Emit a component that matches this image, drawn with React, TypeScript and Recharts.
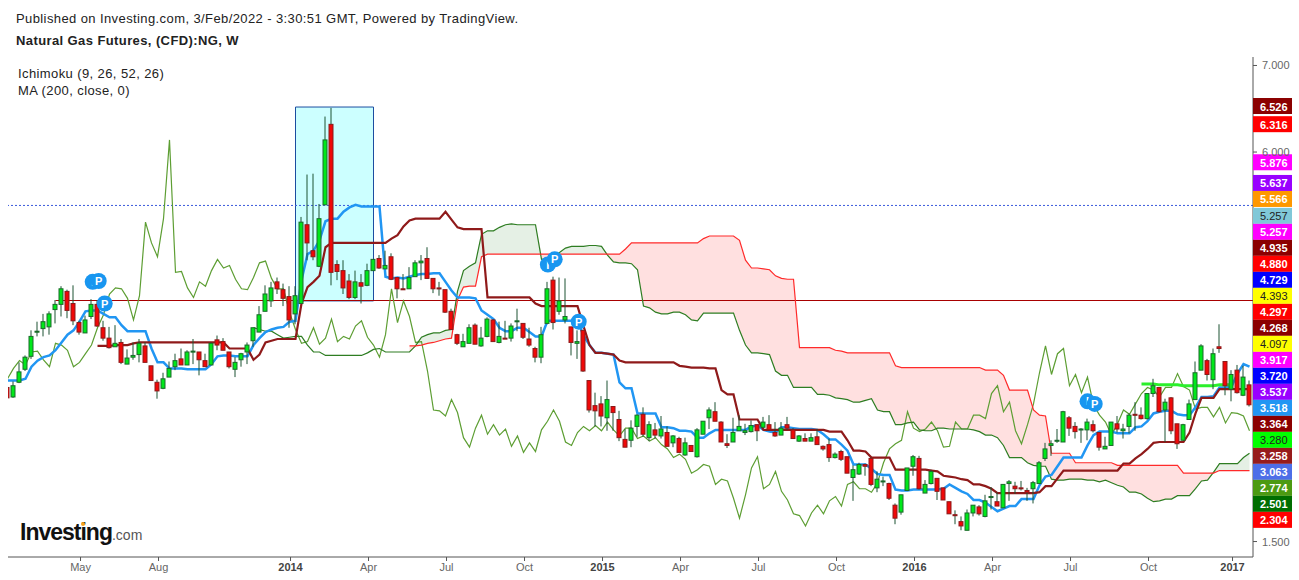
import {
  Area,
  Bar,
  ComposedChart,
  Line,
  ReferenceArea,
  ReferenceDot,
  ReferenceLine,
  XAxis,
  YAxis,
} from "recharts"

const FONT = '"Liberation Sans", Arial, sans-serif'

// weekly candles, NG CFD
const opens = [
  3.28,3.17,3.34,3.49,3.64,3.92,3.96,3.98,4.18,4.24,
  4.39,4.25,4.03,3.91,4.10,4.24,3.97,3.85,3.75,3.80,
  3.55,3.63,3.66,3.76,3.53,3.34,3.27,3.40,3.52,3.61,
  3.54,3.69,3.69,3.59,3.54,3.83,3.81,3.69,3.49,3.60,
  3.69,3.82,3.92,4.16,4.28,4.50,4.41,4.33,4.13,4.25,
  5.16,4.86,4.68,5.39,6.32,4.70,4.63,4.51,4.32,4.49,
  4.46,4.63,4.77,4.65,4.79,4.55,4.42,4.42,4.56,4.72,
  4.77,4.54,4.43,4.41,4.16,3.89,3.75,3.79,4.00,3.76,
  3.87,4.06,3.80,3.85,3.85,4.04,4.02,3.84,3.73,3.63,
  4.02,4.52,4.16,4.06,3.98,3.79,3.94,3.36,3.07,3.09,
  2.93,3.06,2.91,2.68,2.67,2.83,2.97,2.70,2.79,2.72,
  2.76,2.64,2.69,2.50,2.61,2.48,2.74,2.93,3.00,2.88,
  2.63,2.65,2.78,2.76,2.77,2.85,2.82,2.85,2.76,2.73,
  2.85,2.79,2.66,2.69,2.66,2.71,2.60,2.62,2.47,2.54,
  2.48,2.24,2.28,2.39,2.46,2.12,2.19,2.17,1.92,1.84,
  2.09,2.37,2.46,2.06,2.17,2.23,2.12,1.96,1.81,1.73,
  1.63,1.83,1.90,1.79,2.01,1.96,1.89,2.17,2.14,2.12,
  2.09,2.11,2.17,2.46,2.61,2.66,2.65,2.93,2.83,2.80,
  2.79,2.85,2.76,2.57,2.61,2.86,2.78,2.83,2.97,2.96,
  2.92,3.21,3.28,3.02,3.16,2.86,2.67,2.91,3.14,3.48,
  3.59,3.37,3.75,3.58,3.26,3.48,3.19,3.31,
]
const highs = [
  3.29,3.35,3.57,3.65,3.94,4.04,4.13,4.16,4.29,4.45,
  4.41,4.46,4.05,4.11,4.30,4.29,4.05,3.98,4.00,3.84,
  3.72,3.80,3.84,3.80,3.53,3.37,3.45,3.58,3.67,3.73,
  3.71,3.84,3.69,3.67,3.80,3.88,3.85,3.69,3.63,3.68,
  3.80,3.97,4.22,4.46,4.50,4.55,4.48,4.45,4.45,5.25,
  5.74,5.75,5.40,6.41,6.51,4.75,4.75,4.59,4.63,4.59,
  4.71,4.76,4.81,4.86,4.83,4.55,4.59,4.67,4.75,4.81,
  4.90,4.54,4.50,4.41,4.19,3.90,3.90,4.01,4.02,3.98,
  4.09,4.07,4.04,4.05,4.02,4.19,4.02,3.97,3.75,3.98,
  4.50,4.56,4.55,4.54,3.98,3.94,3.94,3.36,3.22,3.18,
  3.36,3.06,3.01,2.80,2.90,2.97,3.05,2.89,2.87,2.95,
  2.83,2.73,2.71,2.70,2.61,2.81,2.89,3.05,3.11,2.89,
  2.74,2.93,2.96,2.86,2.90,2.85,2.94,2.96,2.88,2.88,
  2.94,2.81,2.73,2.75,2.75,2.80,2.61,2.69,2.53,2.56,
  2.48,2.38,2.41,2.40,2.47,2.31,2.25,2.18,1.94,2.04,
  2.35,2.50,2.49,2.21,2.33,2.23,2.12,1.96,1.86,1.79,
  1.87,1.92,1.92,2.04,2.13,2.07,2.16,2.21,2.19,2.20,
  2.12,2.20,2.43,2.64,2.67,2.80,3.01,2.95,2.88,2.81,
  2.92,2.90,2.76,2.71,2.88,2.95,2.86,2.98,3.11,3.05,
  3.21,3.38,3.28,3.15,3.17,2.86,2.86,3.14,3.58,3.78,
  3.61,3.73,4.01,3.58,3.48,3.54,3.53,3.36,
]
const lows = [
  3.16,3.16,3.33,3.47,3.61,3.87,3.87,3.89,4.02,4.10,
  4.08,4.00,3.89,3.91,4.07,3.98,3.82,3.73,3.75,3.55,
  3.55,3.60,3.57,3.57,3.36,3.15,3.26,3.40,3.48,3.54,
  3.54,3.55,3.42,3.52,3.54,3.71,3.71,3.50,3.40,3.52,
  3.55,3.75,3.92,4.16,4.21,4.36,4.22,3.97,4.01,4.25,
  4.75,4.75,4.67,5.39,4.46,4.52,4.36,4.30,4.30,4.25,
  4.45,4.63,4.65,4.65,4.52,4.31,4.41,4.42,4.56,4.52,
  4.54,4.37,4.34,4.14,3.95,3.77,3.75,3.79,3.78,3.75,
  3.86,3.81,3.79,3.84,3.81,3.93,3.84,3.75,3.57,3.56,
  4.01,3.95,4.12,4.02,3.65,3.61,3.46,2.99,2.83,2.83,
  2.78,2.78,2.66,2.59,2.59,2.71,2.71,2.66,2.69,2.69,
  2.60,2.59,2.53,2.49,2.54,2.47,2.74,2.80,2.89,2.65,
  2.58,2.65,2.78,2.73,2.76,2.66,2.81,2.78,2.71,2.73,
  2.79,2.69,2.65,2.66,2.66,2.62,2.55,2.42,2.46,2.43,
  2.29,1.97,2.27,2.26,2.14,2.07,2.14,1.98,1.70,1.81,
  2.09,2.26,2.10,2.06,2.16,1.98,1.98,1.82,1.70,1.63,
  1.63,1.79,1.80,1.78,1.87,1.91,1.89,1.97,2.05,2.09,
  1.97,1.94,2.17,2.43,2.49,2.64,2.65,2.72,2.69,2.64,
  2.67,2.76,2.55,2.57,2.61,2.76,2.69,2.75,2.78,2.91,
  2.91,3.17,2.99,2.65,2.74,2.57,2.67,2.91,3.14,3.48,
  3.36,3.26,3.68,3.19,3.12,3.21,3.18,3.06,
]
const closes = [
  3.16,3.30,3.46,3.63,3.87,3.93,4.04,4.13,4.24,4.42,
  4.17,4.05,3.92,4.06,4.24,3.99,3.85,3.74,3.79,3.57,
  3.62,3.65,3.79,3.57,3.36,3.24,3.38,3.50,3.59,3.54,
  3.69,3.70,3.60,3.52,3.79,3.77,3.71,3.52,3.57,3.67,
  3.77,3.97,4.12,4.36,4.43,4.42,4.31,4.06,4.34,5.19,
  4.95,4.79,5.23,6.14,4.61,4.62,4.43,4.32,4.50,4.45,
  4.63,4.76,4.66,4.69,4.53,4.42,4.41,4.55,4.72,4.74,
  4.54,4.42,4.42,4.15,3.95,3.79,3.81,3.97,3.78,3.85,
  4.07,3.81,3.87,3.84,3.99,4.05,3.86,3.77,3.63,3.89,
  4.42,4.03,4.28,4.10,3.80,3.81,3.47,3.02,3.01,2.95,
  3.14,2.99,2.70,2.59,2.81,2.96,2.74,2.85,2.73,2.80,
  2.60,2.72,2.53,2.64,2.54,2.79,2.89,3.02,2.89,2.65,
  2.61,2.76,2.83,2.78,2.84,2.78,2.88,2.79,2.72,2.81,
  2.81,2.69,2.72,2.66,2.70,2.62,2.57,2.47,2.51,2.45,
  2.29,2.33,2.39,2.37,2.16,2.22,2.20,2.00,1.77,2.04,
  2.35,2.48,2.11,2.16,2.31,2.08,1.98,1.82,1.80,1.68,
  1.83,1.92,1.82,1.97,2.02,1.91,2.16,2.19,2.11,2.11,
  2.07,2.18,2.41,2.57,2.63,2.67,3.00,2.81,2.77,2.80,
  2.88,2.78,2.59,2.60,2.88,2.80,2.80,2.96,2.96,2.92,
  3.21,3.30,3.00,3.11,2.78,2.63,2.85,3.09,3.45,3.76,
  3.43,3.67,3.73,3.30,3.43,3.22,3.40,3.08,
]

// Ichimoku lines
const tenkan = [
  3.36,3.36,3.36,3.38,3.52,3.59,3.63,3.65,3.71,3.80,
  3.89,3.94,4.04,4.16,4.17,4.17,4.13,4.09,4.09,4.00,
  3.93,3.93,3.93,3.93,3.73,3.57,3.57,3.50,3.50,3.50,
  3.49,3.49,3.49,3.49,3.55,3.64,3.65,3.65,3.64,3.64,
  3.64,3.77,3.85,3.92,3.95,3.97,3.98,4.04,4.05,4.52,
  4.82,4.86,4.98,5.20,5.23,5.23,5.31,5.36,5.39,5.37,
  5.37,5.37,5.37,4.56,4.54,4.55,4.54,4.56,4.58,4.59,
  4.59,4.60,4.60,4.50,4.40,4.32,4.32,4.32,4.31,4.17,
  4.12,4.07,3.97,3.93,3.93,3.97,3.97,3.92,3.87,3.87,
  4.05,4.05,4.05,4.05,4.05,4.05,3.88,3.77,3.68,3.68,
  3.67,3.66,3.34,3.27,3.27,2.98,2.98,2.98,2.98,2.82,
  2.82,2.81,2.78,2.78,2.77,2.70,2.70,2.75,2.79,2.79,
  2.79,2.79,2.79,2.79,2.83,2.84,2.79,2.77,2.76,2.82,
  2.82,2.81,2.80,2.80,2.80,2.79,2.74,2.68,2.68,2.62,
  2.55,2.39,2.39,2.39,2.34,2.28,2.27,2.27,2.10,2.09,
  2.09,2.10,2.10,2.10,2.10,2.10,2.11,2.16,2.12,2.08,
  2.05,1.98,1.98,1.95,1.90,1.85,1.88,1.91,1.91,1.99,
  1.99,1.99,2.15,2.25,2.27,2.37,2.47,2.47,2.47,2.47,
  2.61,2.73,2.77,2.77,2.77,2.75,2.75,2.75,2.82,2.83,
  2.89,2.98,3.00,3.01,3.01,2.97,2.96,2.96,3.05,3.17,
  3.17,3.18,3.28,3.28,3.29,3.44,3.55,3.52,
]
const kijunStart = 15
const kijun = [
  3.76,3.76,3.76,3.77,3.77,
  3.77,3.79,3.80,3.80,3.80,3.80,3.80,3.80,3.80,3.80,
  3.80,3.80,3.80,3.80,3.80,3.80,3.80,3.73,3.73,3.73,
  3.73,3.60,3.66,3.80,3.82,3.84,3.84,3.84,3.84,4.25,
  4.44,4.50,4.57,4.90,4.95,4.95,4.95,4.95,4.95,4.95,
  4.95,4.95,4.95,4.95,5.00,5.04,5.14,5.21,5.23,5.23,
  5.23,5.23,5.23,5.31,5.22,5.13,5.11,5.11,5.11,5.11,
  4.32,4.32,4.32,4.32,4.32,4.32,4.32,4.32,4.25,4.22,
  4.22,4.22,4.22,4.22,4.22,4.22,3.99,3.77,3.68,3.68,
  3.67,3.66,3.59,3.57,3.57,3.57,3.57,3.57,3.57,3.57,
  3.57,3.57,3.53,3.52,3.51,3.51,3.51,3.50,3.50,3.25,
  3.20,3.20,2.91,2.91,2.91,2.91,2.79,2.79,2.79,2.79,
  2.79,2.79,2.79,2.79,2.79,2.79,2.79,2.77,2.77,2.77,
  2.67,2.55,2.55,2.54,2.47,2.47,2.47,2.47,2.33,2.33,
  2.33,2.33,2.33,2.33,2.32,2.31,2.26,2.25,2.24,2.22,
  2.21,2.16,2.16,2.14,2.11,2.06,2.06,2.06,2.06,2.06,
  2.06,2.06,2.07,2.14,2.14,2.23,2.32,2.32,2.32,2.32,
  2.32,2.32,2.32,2.32,2.32,2.32,2.40,2.40,2.46,2.51,
  2.57,2.64,2.65,2.65,2.65,2.65,2.65,2.76,2.98,3.16,
  3.16,3.16,3.26,3.26,3.26,3.26,3.26,3.26,
]
const chikou = [
  3.38,3.50,3.59,3.54,
  3.69,3.70,3.60,3.52,3.79,3.77,3.71,3.52,3.57,3.67,
  3.77,3.97,4.12,4.36,4.43,4.42,4.31,4.06,4.34,5.19,
  4.95,4.79,5.23,6.14,4.61,4.62,4.43,4.32,4.50,4.45,
  4.63,4.76,4.66,4.69,4.53,4.42,4.41,4.55,4.72,4.74,
  4.54,4.42,4.42,4.15,3.95,3.79,3.81,3.97,3.78,3.85,
  4.07,3.81,3.87,3.84,3.99,4.05,3.86,3.77,3.63,3.89,
  4.42,4.03,4.28,4.10,3.80,3.81,3.47,3.02,3.01,2.95,
  3.14,2.99,2.70,2.59,2.81,2.96,2.74,2.85,2.73,2.80,
  2.60,2.72,2.53,2.64,2.54,2.79,2.89,3.02,2.89,2.65,
  2.61,2.76,2.83,2.78,2.84,2.78,2.88,2.79,2.72,2.81,
  2.81,2.69,2.72,2.66,2.70,2.62,2.57,2.47,2.51,2.45,
  2.29,2.33,2.39,2.37,2.16,2.22,2.20,2.00,1.77,2.04,
  2.35,2.48,2.11,2.16,2.31,2.08,1.98,1.82,1.80,1.68,
  1.83,1.92,1.82,1.97,2.02,1.91,2.16,2.19,2.11,2.11,
  2.07,2.18,2.41,2.57,2.63,2.67,3.00,2.81,2.77,2.80,
  2.88,2.78,2.59,2.60,2.88,2.80,2.80,2.96,2.96,2.92,
  3.21,3.30,3.00,3.11,2.78,2.63,2.85,3.09,3.45,3.76,
  3.43,3.67,3.73,3.30,3.43,3.22,3.40,3.08,
  2.96,2.88,2.73,2.86,3.02,2.97,3.09,3.21,3.28,3.25,
  3.17,3.28,3.28,3.44,3.29,3.25,3.03,3.05,3.05,2.94,
  3.05,2.87,2.99,2.98,2.95,2.78,
]
const senkouAStart = 41
const senkouA = [
  3.97,3.95,3.93,3.93,3.89,3.85,3.86,3.87,3.87,
  3.77,3.69,3.69,3.65,3.65,3.65,3.65,3.65,3.65,3.65,
  3.68,3.72,3.73,3.69,3.69,3.69,3.69,3.69,3.76,3.86,
  3.89,3.91,3.91,3.94,3.95,4.39,4.63,4.68,4.72,5.05,
  5.09,5.09,5.13,5.16,5.17,5.16,5.16,5.16,5.16,4.76,
  4.77,4.80,4.84,4.89,4.91,4.91,4.91,4.92,4.92,4.91,
  4.81,4.73,4.72,4.72,4.71,4.64,4.22,4.20,4.15,4.13,
  4.13,4.15,4.15,4.12,4.06,4.05,4.14,4.14,4.14,4.14,
  4.14,4.14,3.94,3.77,3.68,3.68,3.67,3.66,3.47,3.42,
  3.42,3.28,3.28,3.28,3.28,3.20,3.20,3.19,3.16,3.15,
  3.14,3.11,3.11,3.13,3.15,3.02,3.00,3.00,2.85,2.85,
  2.87,2.88,2.79,2.78,2.78,2.81,2.81,2.80,2.80,2.80,
  2.80,2.79,2.77,2.73,2.73,2.70,2.61,2.47,2.47,2.47,
  2.41,2.38,2.37,2.37,2.22,2.21,2.21,2.22,2.22,2.22,
  2.21,2.21,2.19,2.21,2.18,2.15,2.13,2.07,2.07,2.05,
  2.00,1.96,1.97,1.99,1.99,2.03,2.03,2.03,2.11,2.20,
  2.21,2.30,2.40,2.40,2.40,2.40,2.47,2.52,
]
const senkouBStart = 67
const senkouB = [
  3.76,3.76,3.77,3.79,3.80,3.82,3.84,3.85,4.29,4.44,4.45,4.45,4.79,
  4.82,4.82,4.82,4.82,4.82,4.82,4.82,4.82,4.82,4.82,4.82,4.82,
  4.82,4.82,4.82,4.82,4.82,4.82,4.82,4.82,4.82,4.82,4.82,
  4.88,
  4.95,4.95,4.95,4.95,4.95,4.95,4.95,4.95,4.95,4.95,4.95,4.95,
  5.00,5.03,5.03,5.03,5.03,5.03,
  4.98,4.75,4.66,4.66,4.65,4.64,4.57,4.54,4.53,4.53,
  3.74,3.74,3.74,3.74,3.74,3.74,3.71,3.70,3.68,
  3.68,3.68,3.68,3.68,3.68,3.68,3.68,
  3.53,
  3.51,3.51,3.51,3.51,3.51,3.51,3.51,3.51,3.51,3.51,3.51,3.51,3.51,3.51,
  3.48,3.48,3.48,3.42,
  3.25,3.25,3.25,3.25,3.02,2.96,2.95,
  2.52,2.52,2.52,2.52,
  2.41,2.41,2.41,2.41,2.41,2.41,2.41,
  2.38,2.38,2.38,2.38,2.38,2.38,2.38,2.38,2.38,2.38,2.38,
  2.29,2.29,2.29,2.29,2.29,2.29,
  2.32,2.32,2.32,2.32,2.32,2.32,
]
const maStart = 189
const ma200 = [3.32,3.32,3.32,3.31,3.31,3.31,3.31,3.30,3.30,3.30,3.30,3.30,3.30,3.31,3.31,3.31]

// x axis
const xTickIndex = [12.17, 25.17, 47.17, 60.17, 73.17, 86.17, 99.17, 112.17, 125.17, 138.17, 151.17, 164.17, 177.17, 190.17, 204.17]
const xTickLabels = ["May", "Aug", "2014", "Apr", "Jul", "Oct", "2015", "Apr", "Jul", "Oct", "2016", "Apr", "Jul", "Oct", "2017"]
const yTicks = [1.5, 2, 2.5, 3, 3.5, 4, 4.5, 5, 5.5, 6, 6.5, 7]
// the other tick labels sit behind the price tags
const yTickLabels = [1.5, 6, 7]

// price tags on the right axis
const tagValues = [6.526, 6.316, 5.876, 5.637, 5.566, 5.257, 5.257, 4.935, 4.88, 4.729, 4.393, 4.297, 4.268, 4.097, 3.917, 3.72, 3.537, 3.518, 3.364, 3.28, 3.258, 3.063, 2.774, 2.501, 2.304]
const tagColors = ["#8b0000", "#ff0000", "#ff00ff", "#9900ff", "#ff9800", "#80c8d8", "#ff00ff", "#8b0000", "#ff0000", "#0000ff", "#ffff00", "#ff0000", "#8b0000", "#ffff00", "#ff00ff", "#0000ff", "#9900ff", "#2196f3", "#8b0000", "#00ff00", "#971c1c", "#4d6ee8", "#4c9a12", "#006e00", "#ff0000"]
const darkTextTags = ["#80c8d8", "#ffff00", "#00ff00"]

// pivot bubbles
const bubbleIndex = [14.2, 15.2, 16.2, 90.06, 91.2, 95.2, 180, 181.2]
const bubbleValue = [4.5, 4.51, 4.25, 4.7, 4.76, 4.04, 3.12, 3.09]
const bubbleText = ["I", "P", "P", "I", "P", "P", "I", "P"]

const rowData = closes.map((close, i) => {
  const a = senkouA[i - senkouAStart] ?? null
  const b = senkouB[i - senkouBStart] ?? null
  return {
    i,
    open: opens[i],
    high: highs[i],
    low: lows[i],
    close,
    tenkan: tenkan[i],
    kijun: kijun[i - kijunStart] ?? null,
    chikou: chikou[i],
    senkouA: a,
    senkouB: b,
    ma: ma200[i - maStart] ?? null,
    cloudUp: a != null && b != null ? [b, Math.max(a, b)] : null,
    cloudDown: a != null && b != null ? [a, Math.max(a, b)] : null,
  }
})

// stack the tags so they don't overlap: one tag is 16px of the 86.55px per unit
const TAG_STEP = 16 / 86.55
const tagPlaced: number[] = []
tagValues.forEach((v, i) => {
  tagPlaced.push(i === 0 ? v : Math.min(v, tagPlaced[i - 1] - TAG_STEP))
})

function Candle(props: any) {
  const { x, y, width, height, payload } = props
  const { open, high, low, close } = payload
  const cx = x + width / 2
  const toY = (v: number) => y + ((high - v) / (high - low || 1)) * height
  const up = close >= open
  const top = toY(Math.max(open, close))
  const bottom = toY(Math.min(open, close))
  return (
    <g>
      <line x1={cx} x2={cx} y1={y} y2={y + height} stroke="#1c5233" strokeWidth={1} />
      <rect
        x={cx - 2}
        y={top}
        width={4}
        height={Math.max(bottom - top, 1)}
        fill={up ? "#00e81a" : "#f00808"}
        stroke={up ? "#1a6a2a" : "#8b1a1a"}
        strokeWidth={1}
      />
    </g>
  )
}

function XTick(props: any) {
  const { x, y, payload } = props
  const label = xTickLabels[xTickIndex.indexOf(payload.value)]
  const isYear = label.length === 4
  return (
    <text x={x} y={y + 8} textAnchor="middle" fontFamily={FONT} fontSize={11} fontWeight={isYear ? 700 : 400} fill={isYear ? "#444" : "#666"}>
      {label}
    </text>
  )
}

function YTick(props: any) {
  const { x, y, payload } = props
  if (!yTickLabels.includes(payload.value)) return null
  return (
    <text x={x + 3} y={y + 4} fontFamily={FONT} fontSize={11} fill="#666">
      {payload.value.toFixed(3)}
    </text>
  )
}

function Tag(props: any) {
  const { cx, cy, color, value } = props
  const dark = darkTextTags.includes(color)
  return (
    <g>
      <rect x={cx + 3.5} y={cy - 8.5} width={39} height={16} fill={color} />
      <text x={cx + 10.5} y={cy + 4} fontFamily={FONT} fontSize={11} fontWeight={dark ? 400 : 700} fill={dark ? "#222" : "#fff"}>
        {value.toFixed(3)}
      </text>
    </g>
  )
}

function Bubble(props: any) {
  const { cx, cy, text } = props
  return (
    <g>
      <circle cx={cx} cy={cy} r={8} fill="#1896f0" />
      <text x={cx} y={cy + 4} textAnchor="middle" fontFamily={FONT} fontSize={11} fontWeight={700} fill="#fff">
        {text}
      </text>
    </g>
  )
}

const textStyle = { position: "absolute", fontFamily: FONT, fontSize: 13, letterSpacing: 0.4, color: "#222", whiteSpace: "nowrap", lineHeight: "16px" } as const

export default function App() {
  return (
    <div style={{ position: "absolute", left: 0, top: 0, width: 1299, height: 580, background: "#fff", overflow: "hidden" }}>
      <ComposedChart width={1299} height={580} data={rowData} margin={{ top: 57, right: 0, bottom: 0, left: 8 }}>
        <XAxis
          dataKey="i"
          type="number"
          domain={[1 / 12, 207 + 7 / 12]}
          allowDataOverflow
          ticks={xTickIndex}
          tick={<XTick />}
          height={23}
          tickSize={4}
          stroke="#555"
          interval={0}
        />
        <YAxis
          orientation="right"
          type="number"
          domain={[1.3213, 7.098]}
          allowDataOverflow
          ticks={yTicks}
          tick={<YTick />}
          width={46}
          tickSize={4}
          stroke="#555"
          interval={0}
        />
        <ReferenceArea x1={48} x2={61} y1={4.28} y2={6.52} fill="#ccffff" fillOpacity={1} stroke="#1c4da0" strokeWidth={1} ifOverflow="visible" />
        <Area dataKey="cloudUp" stroke="none" fill="#e5f0e5" fillOpacity={1} isAnimationActive={false} dot={false} activeDot={false} />
        <Area dataKey="cloudDown" stroke="none" fill="#ffe0e0" fillOpacity={1} isAnimationActive={false} dot={false} activeDot={false} />
        <ReferenceLine y={5.383} stroke="#3b5bdb" strokeDasharray="2 2" strokeWidth={1} />
        <ReferenceLine segment={[{ x: 8, y: 4.285 }, { x: 207.58, y: 4.285 }]} stroke="#a80000" strokeWidth={1.2} />
        <Line dataKey="chikou" stroke="#5d9e33" strokeWidth={1.2} dot={false} activeDot={false} isAnimationActive={false} />
        <Line dataKey="senkouA" stroke="#2e7d22" strokeWidth={1.2} dot={false} activeDot={false} isAnimationActive={false} />
        <Line dataKey="senkouB" stroke="#ff2a2a" strokeWidth={1.2} dot={false} activeDot={false} isAnimationActive={false} />
        <Line dataKey="tenkan" stroke="#2196f3" strokeWidth={2.5} dot={false} activeDot={false} isAnimationActive={false} />
        <Line dataKey="kijun" stroke="#8f1a1a" strokeWidth={2.2} dot={false} activeDot={false} isAnimationActive={false} />
        <Line dataKey="ma" stroke="#2bf02b" strokeWidth={3} dot={false} activeDot={false} isAnimationActive={false} />
        <Bar dataKey={(d: any) => [d.low, d.high]} barSize={5} shape={<Candle />} isAnimationActive={false} zIndex={450} />
        {bubbleIndex.map((x, i) => (
          <ReferenceDot key={i} x={x} y={bubbleValue[i]} r={8} ifOverflow="visible" shape={<Bubble text={bubbleText[i]} />} zIndex={600} />
        ))}
        {tagValues.map((v, i) => (
          <ReferenceDot
            key={v + "-" + i}
            x={207}
            y={tagPlaced[i]}
            r={1}
            ifOverflow="visible"
            shape={<Tag color={tagColors[i]} value={v} />}
            zIndex={700}
          />
        ))}
      </ComposedChart>

      <div style={{ ...textStyle, left: 16, top: 11 }}>Published on Investing.com, 3/Feb/2022 - 3:30:51 GMT, Powered by TradingView.</div>
      <div style={{ ...textStyle, left: 16, top: 33, fontWeight: 700 }}>Natural Gas Futures, (CFD):NG, W</div>
      <div style={{ ...textStyle, left: 18, top: 66 }}>Ichimoku (9, 26, 52, 26)</div>
      <div style={{ ...textStyle, left: 18, top: 83 }}>MA (200, close, 0)</div>
      <div style={{ position: "absolute", left: 20, top: 519, fontFamily: FONT, whiteSpace: "nowrap", lineHeight: "26px" }}>
        <span style={{ fontSize: 23, fontWeight: 700, color: "#111", letterSpacing: -1 }}>Investing</span>
        <span style={{ fontSize: 14, color: "#555" }}>.com</span>
      </div>
      <div style={{ position: "absolute", left: 81, top: 522, width: 4, height: 4, borderRadius: 2, background: "#f7a11a" }} />
    </div>
  )
}
